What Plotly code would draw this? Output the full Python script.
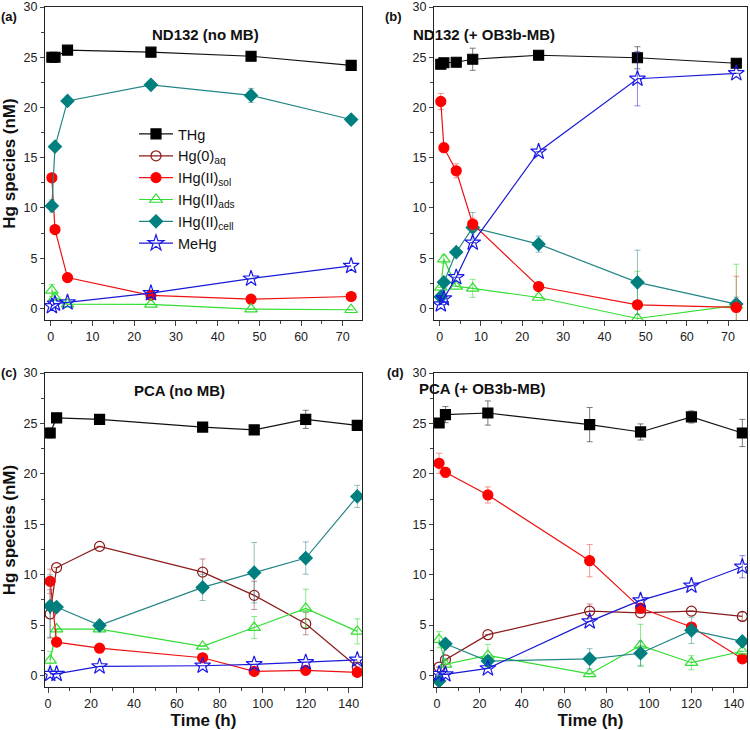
import plotly.graph_objects as go
from plotly.subplots import make_subplots

# ---- data ----
# (a) ND132 (no MB)
t_a = [0.25, 1, 4, 24, 48, 72]
thg_a = [25.0, 25.0, 25.7, 25.5, 25.1, 24.2]
sol_a = [13.0, 7.85, 3.07, 1.3, 0.92, 1.19]
ads_a = [1.8, 1.1, 0.43, 0.4, -0.07, -0.13]
ads_a_err = [0.6, 0.3, 0, 0, 0, 0]
cell_a = [10.2, 16.1, 20.65, 22.25, 21.2, 18.8]
cell_a_err = [0.6, 0, 0, 0, 0.7, 0]
mehg_a = [0.23, 0.47, 0.6, 1.52, 2.97, 4.23]

# (b) ND132 (+ OB3b-MB)
t_b = [0.25, 1, 4, 8, 24, 48, 72]
thg_b = [24.3, 24.45, 24.5, 24.8, 25.2, 24.95, 24.4]
thg_b_err = [0, 0, 0, 1.1, 0, 1.1, 0]
sol_b = [20.6, 16.0, 13.7, 8.4, 2.18, 0.36, 0.1]
sol_b_err = [0.8, 0, 0.7, 0.6, 0, 0, 3.1]
ads_b = [2.1, 4.9, 2.2, 2.0, 1.09, -1.0, 0.3]
ads_b_err = [0, 0.4, 0, 0.9, 0, 4.7, 4.1]
ads_b_errm = [0, 0.4, 0, 0.9, 0, 4.7, 5.9]
cell_b = [1.15, 2.6, 5.6, 8.05, 6.4, 2.6, 0.43]
cell_b_err = [0, 0, 0, 1.5, 0.8, 3.2, 0.7]
mehg_b = [0.4, 1.0, 3.1, 6.55, 15.6, 22.86, 23.4]
mehg_b_err = [0, 0, 0, 0, 0, 2.7, 0]

# (c) PCA (no MB)
t_c = [1, 4, 24, 72, 96, 120, 144]
thg_c = [24.05, 25.55, 25.4, 24.64, 24.35, 25.4, 24.8]
thg_c_err = [0.5, 0, 0, 0, 0.4, 0.9, 0]
hg0_c = [6.1, 10.7, 12.8, 10.25, 7.94, 5.13, 0.83]
hg0_c_err = [2.4, 0, 0, 1.3, 1.4, 1.1, 0]
sol_c = [9.33, 3.3, 2.7, 1.75, 0.4, 0.5, 0.3]
sol_c_err = [1.2, 0, 0, 0, 0, 0, 0]
ads_c = [1.49, 4.6, 4.6, 2.88, 4.75, 6.65, 4.37]
ads_c_err = [0.9, 0, 0, 0, 1.1, 1.9, 1.25]
cell_c = [6.88, 6.78, 4.96, 8.73, 10.19, 11.64, 17.76]
cell_c_err = [3.1, 0, 0, 1.3, 3.0, 1.6, 1.1]
mehg_c = [0.15, 0.15, 0.9, 0.96, 1.1, 1.3, 1.55]

# (d) PCA (+ OB3b-MB)
t_d = [1, 4, 24, 72, 96, 120, 144]
thg_d = [25.04, 25.87, 26.03, 24.88, 24.15, 25.64, 24.05]
thg_d_err = [0.3, 0.8, 1.2, 1.7, 0.8, 0.6, 1.35]
hg0_d = [0.83, 1.55, 4.04, 6.38, 6.2, 6.38, 5.85]
hg0_d_err = [0, 0, 0, 0.7, 0, 0, 0.4]
sol_d = [21.04, 20.15, 17.9, 11.38, 6.68, 4.8, 1.65]
sol_d_err = [1.0, 0.5, 0.8, 1.6, 0, 0, 0]
ads_d = [3.54, 1.1, 1.98, 0.15, 2.97, 1.26, 2.4]
ads_d_err = [0.8, 0, 1.1, 0, 2.1, 0.7, 0]
cell_d = [-0.56, 3.14, 1.42, 1.65, 2.2, 4.47, 3.37]
cell_d_err = [0, 0, 0, 1.0, 1.2, 1.3, 0]
mehg_d = [0.15, 0.1, 0.7, 5.36, 7.44, 8.9, 10.78]
mehg_d_err = [0, 0, 0, 0, 0, 0, 1.1]

names = ["THg", "Hg(0)<sub>aq</sub>", "IHg(II)<sub>sol</sub>", "IHg(II)<sub>ads</sub>",
         "IHg(II)<sub>cell</sub>", "MeHg"]
panel_titles = ["ND132 (no MB)", "ND132 (+ OB3b-MB)", "PCA (no MB)", "PCA (+ OB3b-MB)"]
panel_tags = ["(a)", "(b)", "(c)", "(d)"]

# style per species: line colour, marker colour, symbol, error colour
style = {
    "THg": ("#111111", "#000000", "square", "rgba(90,90,90,0.8)"),
    "Hg0": ("#8b1a1a", "#8b1a1a", "circle-open", "rgba(160,80,80,0.6)"),
    "sol": ("#ee1111", "#ff0000", "circle", "rgba(240,80,80,0.6)"),
    "ads": ("#33dd33", "#33dd33", "triangle-up-open", "rgba(60,220,60,0.6)"),
    "cell": ("#238585", "#007f7f", "diamond", "rgba(40,130,130,0.5)"),
    "MeHg": ("#1a1ad6", "#1a1ae6", "star-open", "rgba(60,60,220,0.6)"),
}
keys = ["THg", "Hg0", "sol", "ads", "cell", "MeHg"]

fig = make_subplots(rows=2, cols=2)


def add(row, col, key, t, y, err=None, errm=None, legend=False):
    lc, mc, sym, ec = style[key]
    ey = None
    if err is not None:
        ey = dict(type="data", array=err, arrayminus=errm if errm else err,
                  color=ec, thickness=1, width=3)
    size = 12 if key == "MeHg" else (10 if key != "ads" else 11)
    fig.add_trace(go.Scatter(x=t, y=y, mode="lines+markers", name=names[keys.index(key)],
                             line=dict(color=lc, width=1.2),
                             marker=dict(color=mc, symbol=sym, size=size,
                                         line=dict(color=mc, width=1.2)),
                             error_y=ey, showlegend=legend),
                  row=row, col=col)


# panel (a)
add(1, 1, "THg", t_a, thg_a, legend=True)
add(1, 1, "Hg0", [None], [None], legend=True)
add(1, 1, "sol", t_a, sol_a, legend=True)
add(1, 1, "ads", t_a, ads_a, ads_a_err, legend=True)
add(1, 1, "cell", t_a, cell_a, cell_a_err, legend=True)
add(1, 1, "MeHg", t_a, mehg_a, legend=True)
# panel (b)
add(1, 2, "THg", t_b, thg_b, thg_b_err)
add(1, 2, "ads", t_b, ads_b, ads_b_err, ads_b_errm)
add(1, 2, "cell", t_b, cell_b, cell_b_err)
add(1, 2, "sol", t_b, sol_b, sol_b_err)
add(1, 2, "MeHg", t_b, mehg_b, mehg_b_err)
# panel (c)
add(2, 1, "THg", t_c, thg_c, thg_c_err)
add(2, 1, "Hg0", t_c, hg0_c, hg0_c_err)
add(2, 1, "ads", t_c, ads_c, ads_c_err)
add(2, 1, "sol", t_c, sol_c, sol_c_err)
add(2, 1, "cell", t_c, cell_c, cell_c_err)
add(2, 1, "MeHg", t_c, mehg_c)
# panel (d)
add(2, 2, "THg", t_d, thg_d, thg_d_err)
add(2, 2, "Hg0", t_d, hg0_d, hg0_d_err)
add(2, 2, "sol", t_d, sol_d, sol_d_err)
add(2, 2, "ads", t_d, ads_d, ads_d_err)
add(2, 2, "cell", t_d, cell_d, cell_d_err)
add(2, 2, "MeHg", t_d, mehg_d, mehg_d_err)

W, H = 750, 730
xdoms = [[45 / W, 362 / W], [434 / W, 747 / W]]
ydoms = [[1 - 320 / H, 1 - 7 / H], [1 - 687 / H, 1 - 373 / H]]

axfont = dict(family="Liberation Sans, Arial", size=12.5, color="#222")
for i, (r, c) in enumerate([(1, 1), (1, 2), (2, 1), (2, 2)]):
    top = r == 1
    fig.update_xaxes(domain=xdoms[c - 1], range=[-1.4, 74.6] if top else [-1.4, 146.2],
                     dtick=10 if top else 20, ticks="outside", ticklen=5, tickwidth=1,
                     minor=dict(dtick=5 if top else 10, ticks="outside", ticklen=3, tickwidth=1),
                     showline=True, linecolor="#222", linewidth=1.3, mirror=True,
                     showgrid=False, zeroline=False, tickfont=axfont, automargin=False,
                     title=None if top else dict(text="<b>Time (h)</b>",
                                                 font=dict(family="Liberation Sans, Arial", size=17, color="#111"),
                                                 standoff=4),
                     row=r, col=c)
    fig.update_yaxes(domain=ydoms[r - 1], range=[-1.15, 30], dtick=5, ticks="outside",
                     ticklen=4, tickwidth=1,
                     minor=dict(dtick=2.5, ticks="outside", ticklen=3, tickwidth=1),
                     showline=True, linecolor="#222", linewidth=1.3, mirror=True,
                     showgrid=False, zeroline=False, tickfont=axfont, automargin=False,
                     title=dict(text="<b>Hg species (nM)</b>",
                                font=dict(family="Liberation Sans, Arial", size=17, color="#111"),
                                standoff=5) if c == 1 else None,
                     row=r, col=c)

# panel titles and tags
title_pos = [(150, 24), (557, 24), (132, 390), (548, 388)]
tag_pos = [(0, 8), (384, 8), (0, 372), (386, 373)]
for i in range(4):
    fig.add_annotation(x=title_pos[i][0] / W, y=1 - title_pos[i][1] / H, xref="paper", yref="paper",
                       text="<b>" + panel_titles[i] + "</b>", showarrow=False,
                       font=dict(family="Liberation Sans, Arial", size=15, color="#111"))
    fig.add_annotation(x=tag_pos[i][0] / W, y=1 - tag_pos[i][1] / H, xref="paper", yref="paper",
                       xanchor="left", borderpad=0,
                       text="<b>" + panel_tags[i] + "</b>", showarrow=False,
                       font=dict(family="Liberation Sans, Arial", size=13, color="#111"))

fig.update_layout(width=W, height=H, margin=dict(l=0, r=0, t=0, b=0),
                  plot_bgcolor="white", paper_bgcolor="white",
                  legend=dict(x=134 / W, y=1 - 118 / H, xanchor="left", yanchor="top",
                              bgcolor="rgba(0,0,0,0)", tracegroupgap=0, itemwidth=34,
                              font=dict(family="Liberation Sans, Arial", size=14.5, color="#111")))

fig.write_html("out.html", config={"displayModeBar": False},
               post_script="document.body.style.margin='0px';document.body.style.overflow='hidden';")
